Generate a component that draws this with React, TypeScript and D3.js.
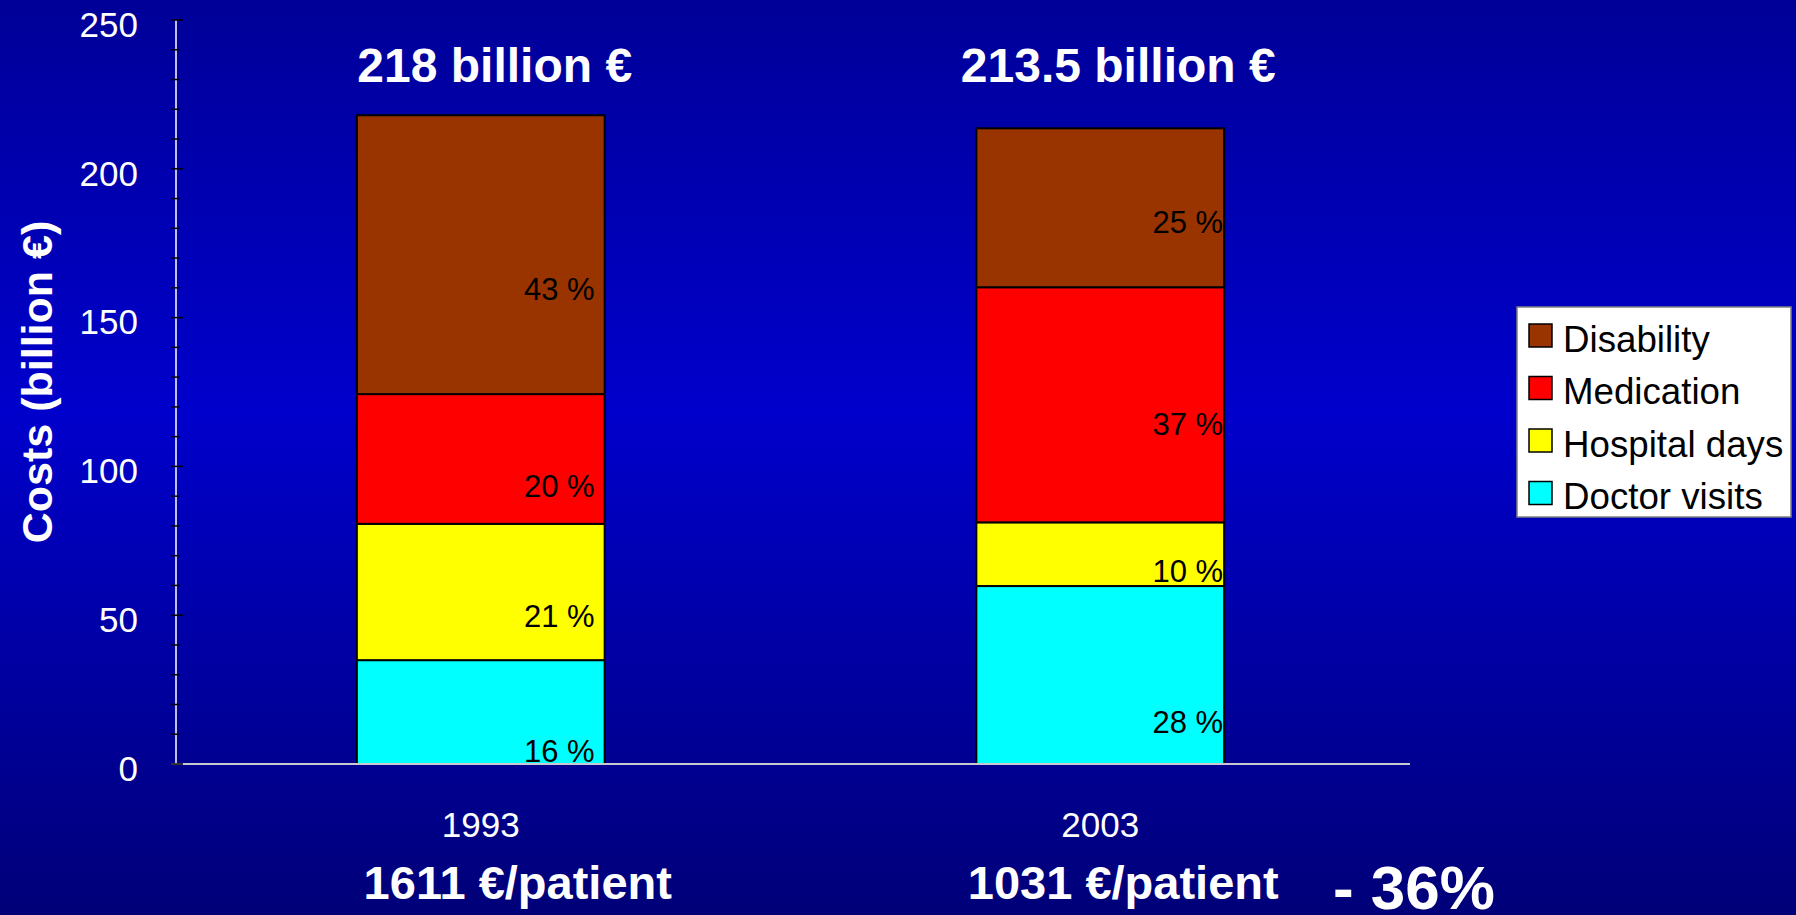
import React from "react";
import * as d3 from "d3";

// ---- data ----
const categories = ["1993", "2003"];
const seriesNames = ["Doctor visits", "Hospital days", "Medication", "Disability"];
const seriesColors = ["#00FFFF", "#FFFF00", "#FF0000", "#993300"];
const doctorVisits = [34.9, 59.8];
const hospitalDays = [45.8, 21.4];
const medication = [43.6, 79.0];
const disability = [93.7, 53.4];
const doctorPct = ["16 %", "28 %"];
const hospitalPct = ["21 %", "10 %"];
const medicationPct = ["20 %", "37 %"];
const disabilityPct = ["43 %", "25 %"];
// where each percent label sits on the value axis (its baseline)
const doctorLabelAt = [0.7, 10.4];
const hospitalLabelAt = [46.0, 61.2];
const medicationLabelAt = [89.7, 110.5];
const disabilityLabelAt = [155.9, 178.4];
const totals = ["218", "213.5"];
const perPatient = ["1611", "1031"];
const changeText = "- 36%";
const yTicks = [0, 50, 100, 150, 200, 250];
const yMinorTicks = d3.range(0, 251, 10);
const yTitle = "Costs (billion €)";

const W = 1796;
const H = 915;
const FONT = "'Liberation Sans', Arial, Helvetica, sans-serif";

export default function App() {
  const x = d3.scaleBand<string>().domain(categories).range([171, 1410]).paddingInner(0.6).paddingOuter(0.3);
  const y = d3.scaleLinear().domain([0, 250]).range([764, 20]);
  const bw = x.bandwidth();

  const rows = categories.map((c, i) => ({
    cat: c,
    "Doctor visits": doctorVisits[i],
    "Hospital days": hospitalDays[i],
    Medication: medication[i],
    Disability: disability[i],
  }));
  const stack = d3.stack<any>().keys(seriesNames)(rows as any);
  const pcts = [doctorPct, hospitalPct, medicationPct, disabilityPct];
  const labelAt = [doctorLabelAt, hospitalLabelAt, medicationLabelAt, disabilityLabelAt];
  const labelInset = [10, 1];
  const titleShift = [14, 18];
  const patientShift = [37, 23];
  const legendOrder = [3, 2, 1, 0];
  const axisX = 176;

  return (
    <div style={{ position: "absolute", left: 0, top: 0, width: W, height: H }}>
      <svg width={W} height={H} style={{ display: "block" }}>
        <defs>
          <linearGradient id="bg" x1="0" y1="0" x2="0" y2="1">
            <stop offset="0" stopColor="#000098" />
            <stop offset="0.45" stopColor="#0000CC" />
            <stop offset="1" stopColor="#000078" />
          </linearGradient>
        </defs>
        <rect x={0} y={0} width={W} height={H} fill="url(#bg)" />

        {/* bars */}
        {stack.map((layer, si) => (
          <g key={seriesNames[si]}>
            {layer.map((d, ci) => (
              <rect
                key={ci}
                x={x(categories[ci])!}
                y={y(d[1])}
                width={bw}
                height={y(d[0]) - y(d[1])}
                fill={seriesColors[si]}
                stroke="#000"
                strokeWidth={2}
              />
            ))}
          </g>
        ))}

        {/* x axis line */}
        <line x1={171} x2={1410} y1={y(0)} y2={y(0)} stroke="#C8C8D0" strokeWidth={2} />

        {/* percent labels */}
        {stack.map((layer, si) =>
          layer.map((d, ci) => (
            <text
              key={`${si}-${ci}`}
              x={x(categories[ci])! + bw - labelInset[ci]}
              y={y(labelAt[si][ci])}
              textAnchor="end"
              fontFamily={FONT}
              fontSize={31}
              fill="#000"
            >
              {pcts[si][ci]}
            </text>
          ))
        )}

        {/* y axis */}
        <line x1={axisX} x2={axisX} y1={y(250)} y2={y(0)} stroke="#FFFFFF" strokeWidth={1.5} />
        {yMinorTicks.map((t) => (
          <line key={"m" + t} x1={171} x2={yTicks.includes(t) ? 183 : 180} y1={y(t)} y2={y(t)} stroke="#000" strokeWidth={1.5} />
        ))}
        {yTicks.map((t) => (
          <text key={"t" + t} x={138} y={y(t)} dy="0.48em" textAnchor="end" fontFamily={FONT} fontSize={35} fill="#FFF">
            {t}
          </text>
        ))}
        <text
          transform={`translate(52,382) rotate(-90)`}
          textAnchor="middle"
          fontFamily={FONT}
          fontSize={43}
          fontWeight="bold"
          fill="#FFF"
        >
          {yTitle}
        </text>

        {/* category labels */}
        {categories.map((c) => (
          <text key={c} x={x(c)! + bw / 2} y={837} textAnchor="middle" fontFamily={FONT} fontSize={35} fill="#FFF">
            {c}
          </text>
        ))}

        {/* totals above bars */}
        {categories.map((c, i) => (
          <text
            key={"tot" + c}
            x={x(c)! + bw / 2 + titleShift[i]}
            y={82}
            textAnchor="middle"
            fontFamily={FONT}
            fontSize={48}
            fontWeight="bold"
            fill="#FFF"
          >
            {`${totals[i]} billion €`}
          </text>
        ))}

        {/* per patient */}
        {categories.map((c, i) => (
          <text
            key={"pp" + c}
            x={x(c)! + bw / 2 + patientShift[i]}
            y={899}
            textAnchor="middle"
            fontFamily={FONT}
            fontSize={47}
            fontWeight="bold"
            fill="#FFF"
          >
            {`${perPatient[i]} €/patient`}
          </text>
        ))}
        <text x={1333} y={909} fontFamily={FONT} fontSize={62} fontWeight="bold" fill="#FFF">
          {changeText}
        </text>

        {/* legend */}
        <g>
          <rect x={1517} y={307} width={274} height={210} fill="#FFF" stroke="#808080" strokeWidth={1.5} />
          {legendOrder.map((si, k) => (
            <g key={seriesNames[si]} transform={`translate(1529, ${324 + k * 52.5})`}>
              <rect x={0} y={0} width={23} height={23} fill={seriesColors[si]} stroke="#000" strokeWidth={1.5} />
              <text x={34} y={27.5} fontFamily={FONT} fontSize={36.7} fill="#000">
                {seriesNames[si]}
              </text>
            </g>
          ))}
        </g>
      </svg>
    </div>
  );
}
